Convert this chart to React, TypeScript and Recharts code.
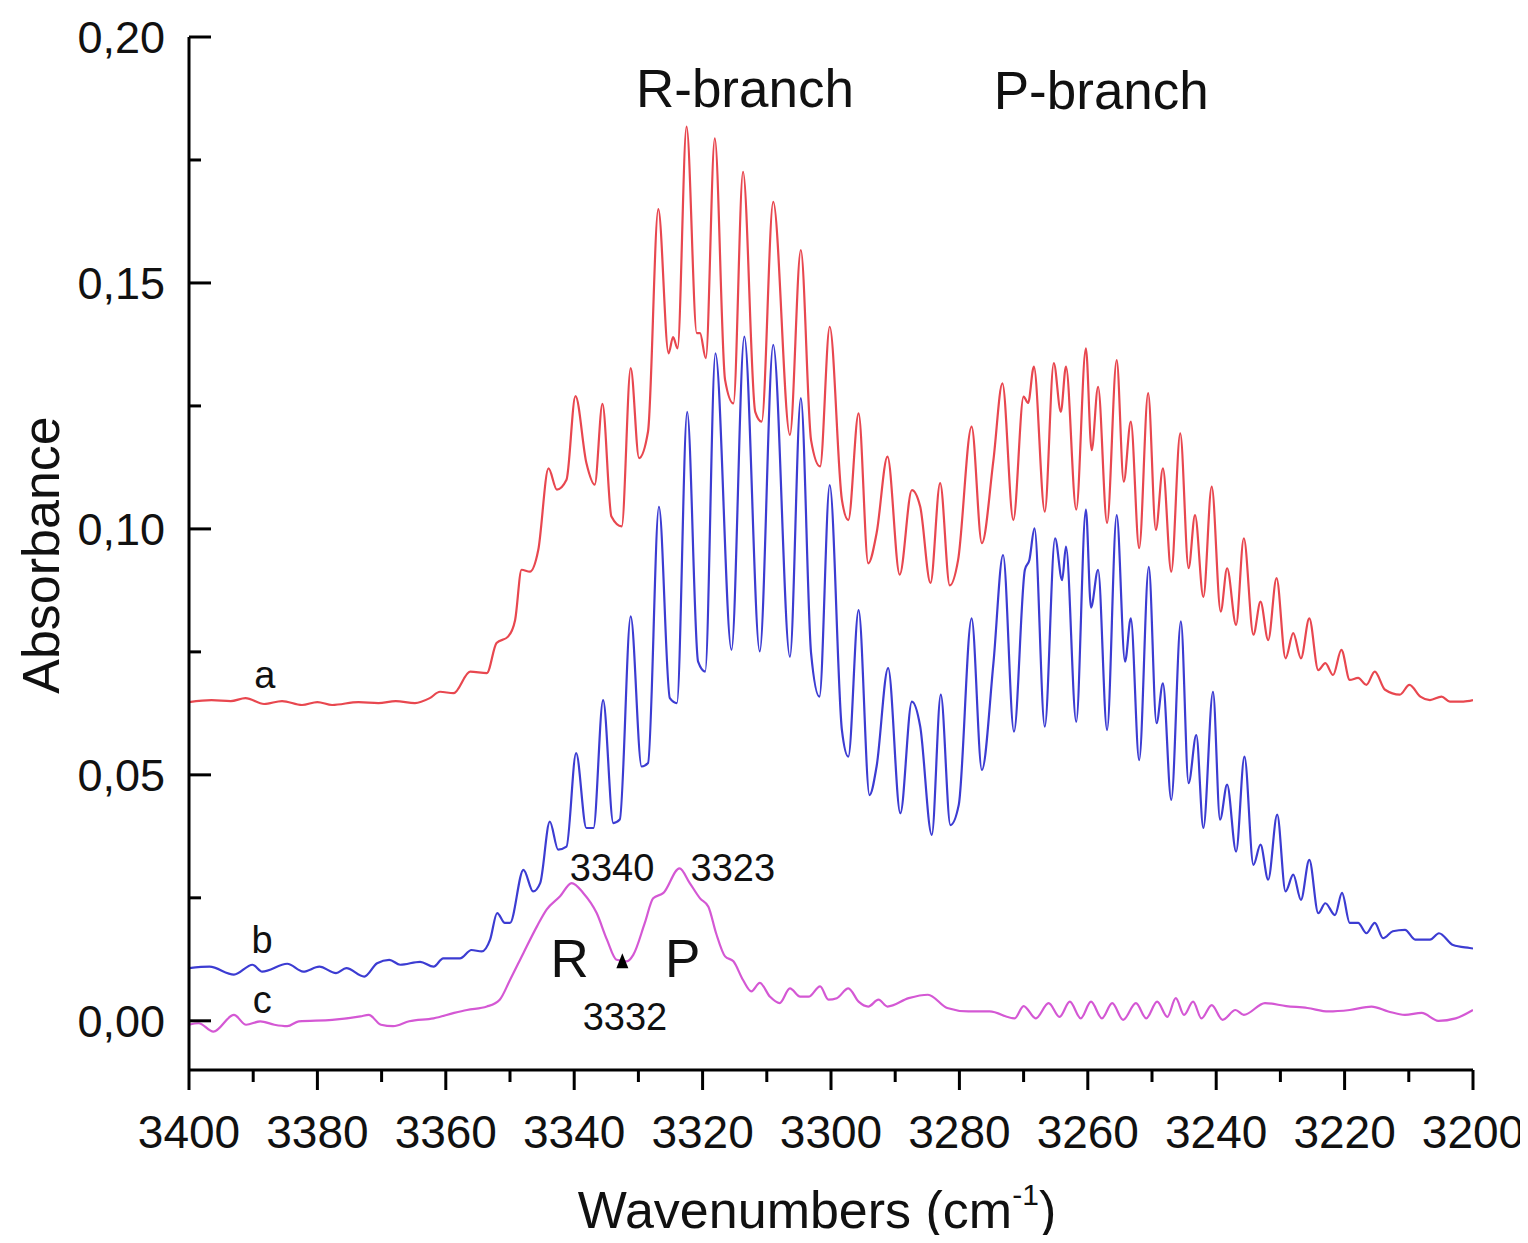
import React from 'react';
import { LineChart, Line, XAxis, YAxis, ReferenceDot } from 'recharts';

// [wavenumber (cm-1), absorbance]
const spectrumA: [number, number][] = [
  [3400, 0.0648], [3396.5, 0.0652], [3393.5, 0.065], [3391.2, 0.0656], [3388.3, 0.0644],
  [3385.5, 0.065], [3382.4, 0.0642], [3380, 0.0648], [3377.7, 0.0642], [3373.6, 0.0648],
  [3370.5, 0.0646], [3367.8, 0.065], [3364.8, 0.0646], [3362.5, 0.0656], [3360.9, 0.0669],
  [3358.8, 0.0666], [3356.2, 0.071], [3353.6, 0.0707], [3352.1, 0.0768], [3350.3, 0.0781],
  [3349.2, 0.0815], [3348.2, 0.0917], [3346.9, 0.0913], [3345.6, 0.0957], [3344.0, 0.1123],
  [3342.7, 0.108], [3341.2, 0.11], [3339.8, 0.127], [3338.1, 0.1134], [3336.8, 0.109],
  [3335.6, 0.1254], [3334.2, 0.1025], [3332.6, 0.1005], [3331.2, 0.1327], [3329.9, 0.1144],
  [3328.5, 0.1198], [3326.9, 0.165], [3325.3, 0.1357], [3324.6, 0.139], [3323.9, 0.1367],
  [3322.5, 0.1818], [3320.9, 0.1398], [3320.4, 0.1398], [3319.5, 0.1347], [3318.1, 0.1794],
  [3316.5, 0.1303], [3315.2, 0.1255], [3313.7, 0.1726], [3311.8, 0.1238], [3310.8, 0.1218],
  [3309.0, 0.1665], [3306.4, 0.1191], [3304.7, 0.1567], [3303.1, 0.118], [3301.7, 0.1127],
  [3300.2, 0.1411], [3298.3, 0.1059], [3297.3, 0.1018], [3295.7, 0.1235], [3294.2, 0.093],
  [3292.9, 0.0991], [3291.2, 0.1147], [3289.3, 0.0907], [3287.4, 0.1079], [3286.1, 0.1045],
  [3284.5, 0.089], [3283.0, 0.1093], [3281.5, 0.0885], [3280.2, 0.0937], [3278.1, 0.1208],
  [3276.5, 0.0971], [3274.7, 0.114], [3273.3, 0.1296], [3271.6, 0.1018], [3270.0, 0.1269],
  [3269.3, 0.1256], [3268.4, 0.133], [3266.7, 0.1035], [3265.3, 0.1337], [3264.2, 0.1238],
  [3263.4, 0.133], [3261.8, 0.1039], [3260.3, 0.1367], [3259.4, 0.116], [3258.4, 0.1289],
  [3257.0, 0.1012], [3255.5, 0.1343], [3254.4, 0.1096], [3253.3, 0.1218], [3252.0, 0.0961],
  [3250.6, 0.1276], [3249.4, 0.0998], [3248.3, 0.1123], [3247.0, 0.0913], [3245.6, 0.1194],
  [3244.3, 0.092], [3243.3, 0.1028], [3242.0, 0.0862], [3240.7, 0.1086], [3239.3, 0.0832],
  [3238.3, 0.092], [3236.9, 0.0805], [3235.7, 0.0981], [3234.2, 0.0785], [3233.1, 0.0852],
  [3231.9, 0.0774], [3230.6, 0.09], [3229.2, 0.0737], [3228.0, 0.0788], [3226.8, 0.0737],
  [3225.5, 0.0818], [3224.1, 0.0713], [3223.0, 0.0727], [3221.8, 0.0703], [3220.5, 0.0754],
  [3219.2, 0.0693], [3217.9, 0.0697], [3216.6, 0.0683], [3215.3, 0.071], [3213.7, 0.0673],
  [3211.4, 0.0663], [3209.9, 0.0683], [3208.2, 0.0659], [3206.7, 0.0652], [3204.9, 0.0659],
  [3203.6, 0.0649], [3201.5, 0.0649], [3200, 0.0652],
];

const spectrumB: [number, number][] = [
  [3400, 0.0107], [3396.8, 0.011], [3393, 0.0094], [3390.1, 0.0114], [3388.6, 0.01],
  [3384.7, 0.0116], [3382.2, 0.01], [3379.7, 0.011], [3377.1, 0.0097], [3375.5, 0.0107],
  [3372.7, 0.009], [3370.7, 0.0117], [3368.8, 0.0124], [3367.1, 0.0114], [3364.0, 0.012],
  [3361.9, 0.011], [3360.4, 0.0127], [3357.8, 0.0127], [3356.0, 0.0144], [3354.4, 0.0141],
  [3353.1, 0.0165], [3352.0, 0.0219], [3350.8, 0.0199], [3350.0, 0.0199], [3347.9, 0.0307],
  [3346.4, 0.0263], [3345.3, 0.028], [3343.8, 0.0405], [3342.5, 0.0348], [3341.2, 0.0354],
  [3339.7, 0.0544], [3338.1, 0.0392], [3337.0, 0.0392], [3335.5, 0.0652], [3333.9, 0.0402],
  [3332.9, 0.0409], [3331.2, 0.0822], [3329.5, 0.0517], [3328.5, 0.0524], [3326.8, 0.1045],
  [3325.1, 0.0656], [3324.0, 0.0646], [3322.4, 0.1238], [3320.7, 0.073], [3319.6, 0.071],
  [3318.0, 0.1357], [3315.5, 0.0754], [3313.5, 0.1391], [3311.1, 0.0751], [3309.0, 0.1374],
  [3306.4, 0.074], [3304.7, 0.1266], [3303.1, 0.0747], [3301.8, 0.0659], [3300.2, 0.1089],
  [3298.3, 0.0591], [3297.3, 0.0537], [3295.7, 0.0835], [3294.0, 0.0459], [3292.9, 0.0517],
  [3291.1, 0.0717], [3289.2, 0.0422], [3287.4, 0.0649], [3286.1, 0.0598], [3284.3, 0.0378],
  [3282.9, 0.0663], [3281.4, 0.0398], [3280.1, 0.0439], [3278.1, 0.0818], [3276.5, 0.051],
  [3274.7, 0.0727], [3273.2, 0.0947], [3271.5, 0.0588], [3269.8, 0.0917], [3269.1, 0.0937],
  [3268.3, 0.1001], [3266.7, 0.0598], [3265.1, 0.0981], [3264.0, 0.0896], [3263.4, 0.0964],
  [3261.8, 0.0608], [3260.3, 0.1039], [3259.5, 0.084], [3258.4, 0.0917], [3257.0, 0.0591],
  [3255.5, 0.1028], [3254.2, 0.073], [3253.3, 0.0818], [3252.0, 0.053], [3250.5, 0.0923],
  [3249.3, 0.0605], [3248.3, 0.0686], [3247.0, 0.0449], [3245.5, 0.0812], [3244.3, 0.0483],
  [3243.1, 0.0581], [3242.0, 0.0392], [3240.5, 0.0669], [3239.4, 0.0409], [3238.3, 0.048],
  [3236.9, 0.0344], [3235.6, 0.0537], [3234.2, 0.0317], [3233.1, 0.0358], [3231.9, 0.0287],
  [3230.5, 0.0419], [3229.2, 0.0263], [3228.0, 0.0297], [3226.8, 0.0246], [3225.5, 0.0327],
  [3224.1, 0.0219], [3223.0, 0.0239], [3221.5, 0.0215], [3220.4, 0.026], [3219.2, 0.0199],
  [3217.9, 0.0199], [3216.6, 0.0178], [3215.3, 0.0199], [3214.0, 0.0168], [3212.5, 0.0182],
  [3210.6, 0.0185], [3209.0, 0.0165], [3206.7, 0.0165], [3205.3, 0.0178], [3203.1, 0.0154],
  [3200.5, 0.0148], [3200, 0.0147],
];

const spectrumC: [number, number][] = [
  [3400, -0.0008], [3398.5, -0.0005], [3396.2, -0.0022], [3393, 0.0012], [3391.1, -0.0008],
  [3388.9, -0.0001], [3386.7, -0.0008], [3384.7, -0.0011], [3382.9, -0.0001], [3377.7, 0.0002],
  [3373.3, 0.0009], [3372.0, 0.0012], [3370.1, -0.0008], [3368.2, -0.0011], [3365.7, -0.0001],
  [3361.9, 0.0005], [3358.7, 0.0016], [3356.7, 0.0022], [3353.6, 0.0029], [3351.6, 0.0043],
  [3350.0, 0.0083], [3347.9, 0.0138], [3345.8, 0.0192], [3344.3, 0.0226], [3342.2, 0.0253],
  [3340.4, 0.028], [3338.6, 0.026], [3336.5, 0.0219], [3334.9, 0.0165], [3333.4, 0.0124],
  [3331.8, 0.0121], [3330.8, 0.0134], [3329.0, 0.0199], [3327.7, 0.0249], [3326.1, 0.026],
  [3323.6, 0.031], [3322.0, 0.028], [3320.4, 0.0249], [3319.1, 0.0232], [3317.9, 0.0178],
  [3316.5, 0.0131], [3315.2, 0.0121], [3313.7, 0.0083], [3312.4, 0.006], [3311.1, 0.0077],
  [3309.5, 0.0049], [3308.0, 0.0036], [3306.4, 0.0066], [3304.8, 0.0049], [3303.5, 0.0049],
  [3301.7, 0.007], [3300.4, 0.0043], [3299.1, 0.0046], [3297.3, 0.0066], [3295.7, 0.0039],
  [3294.2, 0.0029], [3292.6, 0.0043], [3291.2, 0.0029], [3287.9, 0.0046], [3284.9, 0.0053],
  [3281.9, 0.0026], [3278.6, 0.0019], [3275.3, 0.0019], [3271.4, 0.0005], [3270.0, 0.003],
  [3268.1, 0.0005], [3266.1, 0.0036], [3264.4, 0.0008], [3262.8, 0.0039], [3261.1, 0.0005],
  [3259.5, 0.0039], [3257.8, 0.0005], [3256.2, 0.0036], [3254.5, 0.0002], [3252.5, 0.0036],
  [3250.9, 0.0005], [3249.2, 0.0039], [3247.6, 0.0008], [3246.3, 0.0046], [3245.0, 0.0012],
  [3243.6, 0.0039], [3242.3, 0.0005], [3240.7, 0.0032], [3239.0, 0.0002], [3237.0, 0.0022],
  [3235.7, 0.0012], [3232.4, 0.0036], [3229.1, 0.003], [3225.8, 0.0026], [3222.5, 0.0019],
  [3219.2, 0.0022], [3215.8, 0.0029], [3213.2, 0.0019], [3210.6, 0.0012], [3208.0, 0.0016],
  [3205.4, 0.0], [3202.7, 0.0005], [3200, 0.0022],
];

const xTicks = [3400, 3390, 3380, 3370, 3360, 3350, 3340, 3330, 3320, 3310, 3300,
  3290, 3280, 3270, 3260, 3250, 3240, 3230, 3220, 3210, 3200];
const yTicks = [0, 0.025, 0.05, 0.075, 0.1, 0.125, 0.15, 0.175, 0.2];

// annotations: [text, wavenumber, absorbance, fontSize]
const notes: [string, number, number, number][] = [
  ['R-branch', 3313.4, 0.1896, 53],
  ['P-branch', 3257.9, 0.1892, 53],
  ['a', 3388.2, 0.0703, 38],
  ['b', 3388.6, 0.0165, 38],
  ['c', 3388.6, 0.0043, 38],
  ['3340', 3334.1, 0.0311, 38],
  ['3323', 3315.3, 0.0311, 38],
  ['3332', 3332.1, 0.0008, 38],
  ['R', 3340.7, 0.0128, 53],
  ['P', 3323.1, 0.0128, 53],
];

const toPoints = (s: [number, number][]) => s.map(([wn, abs]) => ({ wn, abs }));

const XTick = (props: any) => {
  const { x, y, payload } = props;
  const major = payload.value % 20 === 0;
  return (
    <g>
      <line x1={x} x2={x} y1={y} y2={y + (major ? 20 : 12)} stroke="#000" strokeWidth={3} />
      {major && (
        <text x={x} y={y + 78} textAnchor="middle" fontSize={46} fill="#111">
          {payload.value}
        </text>
      )}
    </g>
  );
};

const YTick = (props: any) => {
  const { x, y, payload } = props;
  const v = payload.value;
  const major = Math.round(v * 1000) % 50 === 0;
  return (
    <g>
      <line x1={x} x2={x + (major ? 22 : 12)} y1={y} y2={y} stroke="#000" strokeWidth={3} />
      {major && (
        <text x={x - 24} y={y + 16} textAnchor="end" fontSize={45} fill="#111">
          {v.toFixed(2).replace('.', ',')}
        </text>
      )}
    </g>
  );
};

const Marker = (props: any) => {
  const { cx, cy } = props;
  return <polygon points={`${cx},${cy - 8} ${cx - 6},${cy + 7} ${cx + 6},${cy + 7}`} fill="#000" />;
};

export default function App() {
  return (
    <div style={{ position: 'relative', width: 1520, height: 1227, fontFamily: '"Liberation Sans", Arial, sans-serif', color: '#111' }}>
      <LineChart width={1520} height={1227} margin={{ top: 29, right: 55, left: 0, bottom: 0 }}>
        <XAxis
          type="number"
          dataKey="wn"
          domain={[3200, 3400]}
          reversed
          ticks={xTicks}
          interval={0}
          height={165}
          tickSize={0}
          tickMargin={0}
          tickLine={false}
          tick={<XTick />}
          axisLine={{ stroke: '#000', strokeWidth: 3 }}
          allowDataOverflow
        />
        <YAxis
          type="number"
          domain={[-0.01, 0.2]}
          ticks={yTicks}
          interval={0}
          width={181}
          tickSize={0}
          tickMargin={0}
          tickLine={false}
          tick={<YTick />}
          axisLine={{ stroke: '#000', strokeWidth: 3 }}
          allowDataOverflow
        />
        <Line data={toPoints(spectrumA)} dataKey="abs" type="monotone" stroke="#e8474f" strokeWidth={2.2} dot={false} isAnimationActive={false} />
        <Line data={toPoints(spectrumB)} dataKey="abs" type="monotone" stroke="#3c3cd2" strokeWidth={2.2} dot={false} isAnimationActive={false} />
        <Line data={toPoints(spectrumC)} dataKey="abs" type="monotone" stroke="#d458d4" strokeWidth={2.2} dot={false} isAnimationActive={false} />
        {notes.map(([text, wn, abs, size]) => (
          <ReferenceDot
            key={text}
            x={wn}
            y={abs}
            r={0}
            stroke="none"
            fill="none"
            label={{ value: text, position: 'center', fontSize: size, fill: '#111' }}
          />
        ))}
        <ReferenceDot x={3332.5} y={0.0121} r={3} shape={<Marker />} />
      </LineChart>
      <div
        style={{
          position: 'absolute', left: 33, top: 547, fontSize: 52, lineHeight: 1, whiteSpace: 'nowrap',
          transform: 'translate(-50%, -50%) rotate(-90deg)',
        }}
      >
        Absorbance
      </div>
      <div
        style={{
          position: 'absolute', left: 809, top: 1176, fontSize: 52, lineHeight: 1, whiteSpace: 'nowrap',
          transform: 'translateX(-50%)',
        }}
      >
        Wavenumbers (cm<sup style={{ fontSize: 30, verticalAlign: 'top', position: 'relative', top: -4 }}>-1</sup>)
      </div>
    </div>
  );
}
